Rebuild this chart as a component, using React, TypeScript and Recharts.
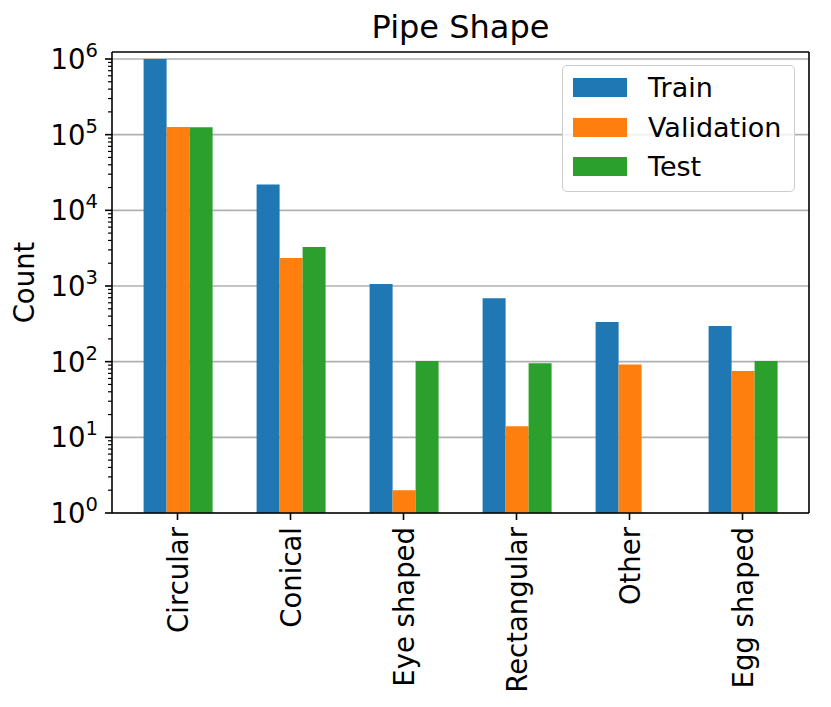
import { BarChart, Bar, XAxis, YAxis, CartesianGrid, Legend } from "recharts";

const FONT = "'DejaVu Sans', sans-serif";

const categories = ["Circular", "Conical", "Eye shaped", "Rectangular", "Other", "Egg shaped"];
const train = [1000000, 22000, 1060, 690, 335, 296];
const validation = [126000, 2340, 2, 14, 92, 75];
const test = [125000, 3280, 102, 95, null, 102];

const seriesNames = ["Train", "Validation", "Test"];
const seriesKeys = ["train", "validation", "test"];
const COLORS = ["#1f77b4", "#ff7f0e", "#2ca02c"];

const Y_DOMAIN = [1, 1237000];
const majorTicks = [1, 10, 100, 1000, 10000, 100000, 1000000];
const minorSteps = [2, 3, 4, 5, 6, 7, 8, 9];
const yTicks = [
  ...majorTicks,
  ...majorTicks.slice(0, -1).flatMap((t) => minorSteps.map((s) => s * t)),
];

const data = categories.map((name, i) => ({
  name,
  train: train[i],
  validation: validation[i],
  test: test[i],
}));

function isMajor(v: number) {
  const l = Math.log10(v);
  return Math.abs(l - Math.round(l)) < 1e-9;
}

// grid only on the decades, through the y axis scale
function gridRows({ yAxis, offset }: any) {
  const s: any = yAxis && yAxis.scale;
  if (typeof s === "function") return majorTicks.map((t) => s(t));
  if (s && typeof s.map === "function") return majorTicks.map((t) => s.map(t));
  const lo = Math.log10(Y_DOMAIN[0]);
  const hi = Math.log10(Y_DOMAIN[1]);
  return majorTicks.map(
    (t) => offset.top + offset.height * (1 - (Math.log10(t) - lo) / (hi - lo))
  );
}

function LogTick({ x, y, payload }: any) {
  const v = payload.value;
  if (!isMajor(v)) {
    return <line x1={x - 4} x2={x} y1={y} y2={y} stroke="#000" strokeWidth={1.2} />;
  }
  const exp = Math.round(Math.log10(v));
  return (
    <g>
      <line x1={x - 7} x2={x} y1={y} y2={y} stroke="#000" strokeWidth={1.6} />
      <text x={x - 14} y={y + 10} textAnchor="end" fontSize={27.5} fontFamily={FONT} fill="#000">
        10
        <tspan dy={-12} fontSize={19.5}>
          {exp}
        </tspan>
      </text>
    </g>
  );
}

function CatTick({ x, y, payload }: any) {
  return (
    <text
      x={x}
      y={y}
      transform={`rotate(-90, ${x}, ${y})`}
      textAnchor="end"
      dominantBaseline="central"
      fontSize={27.5}
      fontFamily={FONT}
      fill="#000"
    >
      {payload.value}
    </text>
  );
}

function Title({ viewBox }: any) {
  return (
    <text x={viewBox.x + viewBox.width / 2} y={38} textAnchor="middle" fontSize={32} fontFamily={FONT} fill="#000">
      Pipe Shape
    </text>
  );
}

function CountLabel({ viewBox }: any) {
  const x = 34;
  const y = viewBox.y + viewBox.height / 2;
  return (
    <text x={x} y={y} transform={`rotate(-90, ${x}, ${y})`} textAnchor="middle" fontSize={27.5} fontFamily={FONT} fill="#000">
      Count
    </text>
  );
}

function LegendBox() {
  return (
    <div
      style={{
        position: "relative",
        width: 233,
        height: 127,
        boxSizing: "border-box",
        border: "1.6px solid #cccccc",
        borderRadius: 5,
        background: "rgba(255,255,255,0.8)",
        fontFamily: FONT,
        fontSize: 27,
        color: "#000",
      }}
    >
      {seriesNames.map((name, i) => (
        <div key={name} style={{ position: "absolute", left: 0, top: 22 + i * 39.5 - 20, height: 40, width: 233 }}>
          <div style={{ position: "absolute", left: 10, top: 10, width: 54, height: 19, background: COLORS[i] }} />
          <div style={{ position: "absolute", left: 85, top: 0, lineHeight: "40px", whiteSpace: "nowrap" }}>{name}</div>
        </div>
      ))}
    </div>
  );
}

export default function App() {
  const axisStroke = { stroke: "#000", strokeWidth: 1.6 };
  return (
    <div style={{ position: "absolute", left: 0, top: 0, width: 831, height: 707, background: "#fff", fontFamily: FONT }}>
      <BarChart
        width={831}
        height={707}
        data={data}
        margin={{ top: 51, right: 21, bottom: 0, left: 12 }}
        barCategoryGap="20%"
        barGap={0}
      >
        <CartesianGrid
          vertical={false}
          stroke="#b0b0b0"
          strokeWidth={1.6}
          horizontalCoordinatesGenerator={gridRows}
        />
        <XAxis
          dataKey="name"
          height={194}
          padding={{ left: 9, right: 10 }}
          interval={0}
          tick={<CatTick />}
          tickSize={7}
          tickMargin={7}
          axisLine={axisStroke}
          tickLine={axisStroke}
        />
        <XAxis
          xAxisId="top"
          dataKey="name"
          orientation="top"
          height={1}
          tick={false}
          tickLine={false}
          axisLine={axisStroke}
          label={<Title />}
        />
        <YAxis
          scale="log"
          type="number"
          domain={Y_DOMAIN}
          allowDataOverflow
          ticks={yTicks}
          interval={0}
          width={100}
          tick={<LogTick />}
          tickSize={0}
          tickMargin={0}
          tickLine={false}
          axisLine={axisStroke}
          label={<CountLabel />}
        />
        <YAxis
          yAxisId="right"
          orientation="right"
          scale="log"
          type="number"
          domain={Y_DOMAIN}
          allowDataOverflow
          width={1}
          tick={false}
          tickLine={false}
          axisLine={axisStroke}
        />
        <Legend
          layout="vertical"
          align="center"
          verticalAlign="middle"
          wrapperStyle={{ left: 562, top: 65, width: 233, height: 127 }}
          content={<LegendBox />}
        />
        {seriesKeys.map((key, i) => (
          <Bar key={key} dataKey={key} name={seriesNames[i]} fill={COLORS[i]} isAnimationActive={false} />
        ))}
      </BarChart>
    </div>
  );
}
